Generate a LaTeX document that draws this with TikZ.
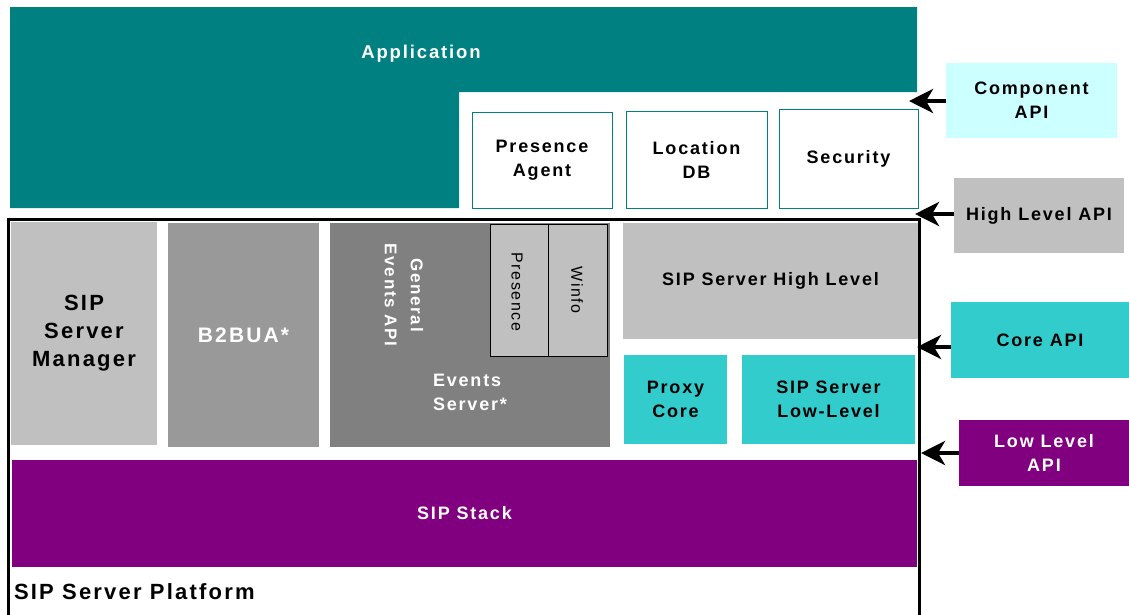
\documentclass[tikz,border=0pt]{standalone}
\usepackage{fontspec}
\setmainfont{Liberation Sans}[LetterSpace=10]
\usetikzlibrary{arrows.meta}
\definecolor{appteal}{HTML}{008080}
\definecolor{lcyan}{HTML}{CCFFFF}
\definecolor{lgray}{HTML}{C0C0C0}
\definecolor{mgray}{HTML}{999999}
\definecolor{dgray}{HTML}{808080}
\definecolor{cyanc}{HTML}{33CCCC}
\definecolor{purp}{HTML}{800080}
\tikzset{
  blk/.style={anchor=north west, inner sep=0pt, outer sep=0pt, align=center,
    font=\fontsize{18}{24}\selectfont\bfseries},
  wtxt/.style={text=white},
  apiarrow/.style={line width=4.5pt, -{Stealth[length=24pt,width=24pt,inset=7pt]}},
  tbox/.style={blk, draw=appteal, line width=1pt, fill=white},
}
\begin{document}
\begin{tikzpicture}[x=1pt,y=-1pt]
\useasboundingbox (0,0) rectangle (1129,614);
% Application L-shape
\fill[appteal] (10,7) -- (917,7) -- (917,92) -- (459,92) -- (459,208) -- (10,208) -- cycle;
\node[blk, wtxt, anchor=center, font=\fontsize{18.5}{24}\selectfont\bfseries] (app) at (421,54) {Application};
% component boxes
\node[tbox, minimum width=140pt, minimum height=96pt] (pa) at (472,112) {Presence\\Agent};
\node[tbox, minimum width=141pt, minimum height=97pt] (ldb) at (626,111) {Location\\DB};
\node[tbox, minimum width=139pt, minimum height=99pt] (sec) at (779,109) {Security};
% API boxes
\node[blk, fill=lcyan, minimum width=171pt, minimum height=75pt] (comp) at (946,63) {Component\\API};
\node[blk, fill=lgray, minimum width=170pt, minimum height=75pt] (high) at (954,178) {High Level API};
\node[blk, fill=cyanc, minimum width=178pt, minimum height=76pt] (core) at (951,302) {Core API};
\node[blk, wtxt, fill=purp, minimum width=170pt, minimum height=66pt] (low) at (959,420) {Low Level\\API};
% platform blocks
\node[blk, fill=lgray, minimum width=146pt, minimum height=223pt, font=\fontsize{22}{28}\selectfont\bfseries] (mgr) at (11,222) {SIP\\Server\\Manager};
\node[blk, wtxt, fill=mgray, minimum width=151pt, minimum height=224pt, font=\fontsize{21}{26}\selectfont\bfseries] (b2b) at (168,223) {B2BUA*};
\node[blk, fill=dgray, minimum width=280pt, minimum height=224pt] (evs) at (330,223) {};
\node[blk, wtxt, anchor=center, align=left] (evst) at (470,392) {Events\\Server*};
\node[blk, wtxt, anchor=center, rotate=-90, font=\fontsize{17}{26}\selectfont\bfseries] (gea) at (404,295) {General\\Events API};
\node[blk, draw=black, line width=1pt, fill=lgray, minimum width=58pt, minimum height=132pt] (pres) at (490,224) {};
\node[blk, draw=black, line width=1pt, fill=lgray, minimum width=59pt, minimum height=132pt] (winf) at (548,224) {};
\node[anchor=center, rotate=-90, font=\fontsize{16}{20}\selectfont] (prest) at (517,292) {Presence};
\node[anchor=center, rotate=-90, font=\fontsize{16}{20}\selectfont] (winft) at (577,290) {Winfo};
\node[blk, fill=lgray, minimum width=295pt, minimum height=116pt] (shl) at (623,223) {SIP Server High Level};
\node[blk, fill=cyanc, minimum width=103pt, minimum height=89pt] (pc) at (624,355) {Proxy\\Core};
\node[blk, fill=cyanc, minimum width=173pt, minimum height=89pt] (sll) at (742,355) {SIP Server\\Low-Level};
\node[blk, wtxt, fill=purp, minimum width=905pt, minimum height=107pt] (stack) at (12,460) {SIP Stack};
% platform frame
\draw[line width=3pt] (8,625) -- (8,219.5) -- (919.5,219.5) -- (919.5,625);
\node[blk, anchor=west, font=\fontsize{22}{26}\selectfont\bfseries] (plat) at (14,592) {SIP Server Platform};
% arrows
\coordinate (cT) at (909,101);
\coordinate (hT) at (915,214);
\coordinate (kT) at (917,347);
\coordinate (lT) at (921,453);
\draw[apiarrow] (comp.west |- cT) -- (cT);
\draw[apiarrow] (high.west |- hT) -- (hT);
\draw[apiarrow] (core.west |- kT) -- (kT);
\draw[apiarrow] (low.west |- lT) -- (lT);
\end{tikzpicture}
\end{document}
